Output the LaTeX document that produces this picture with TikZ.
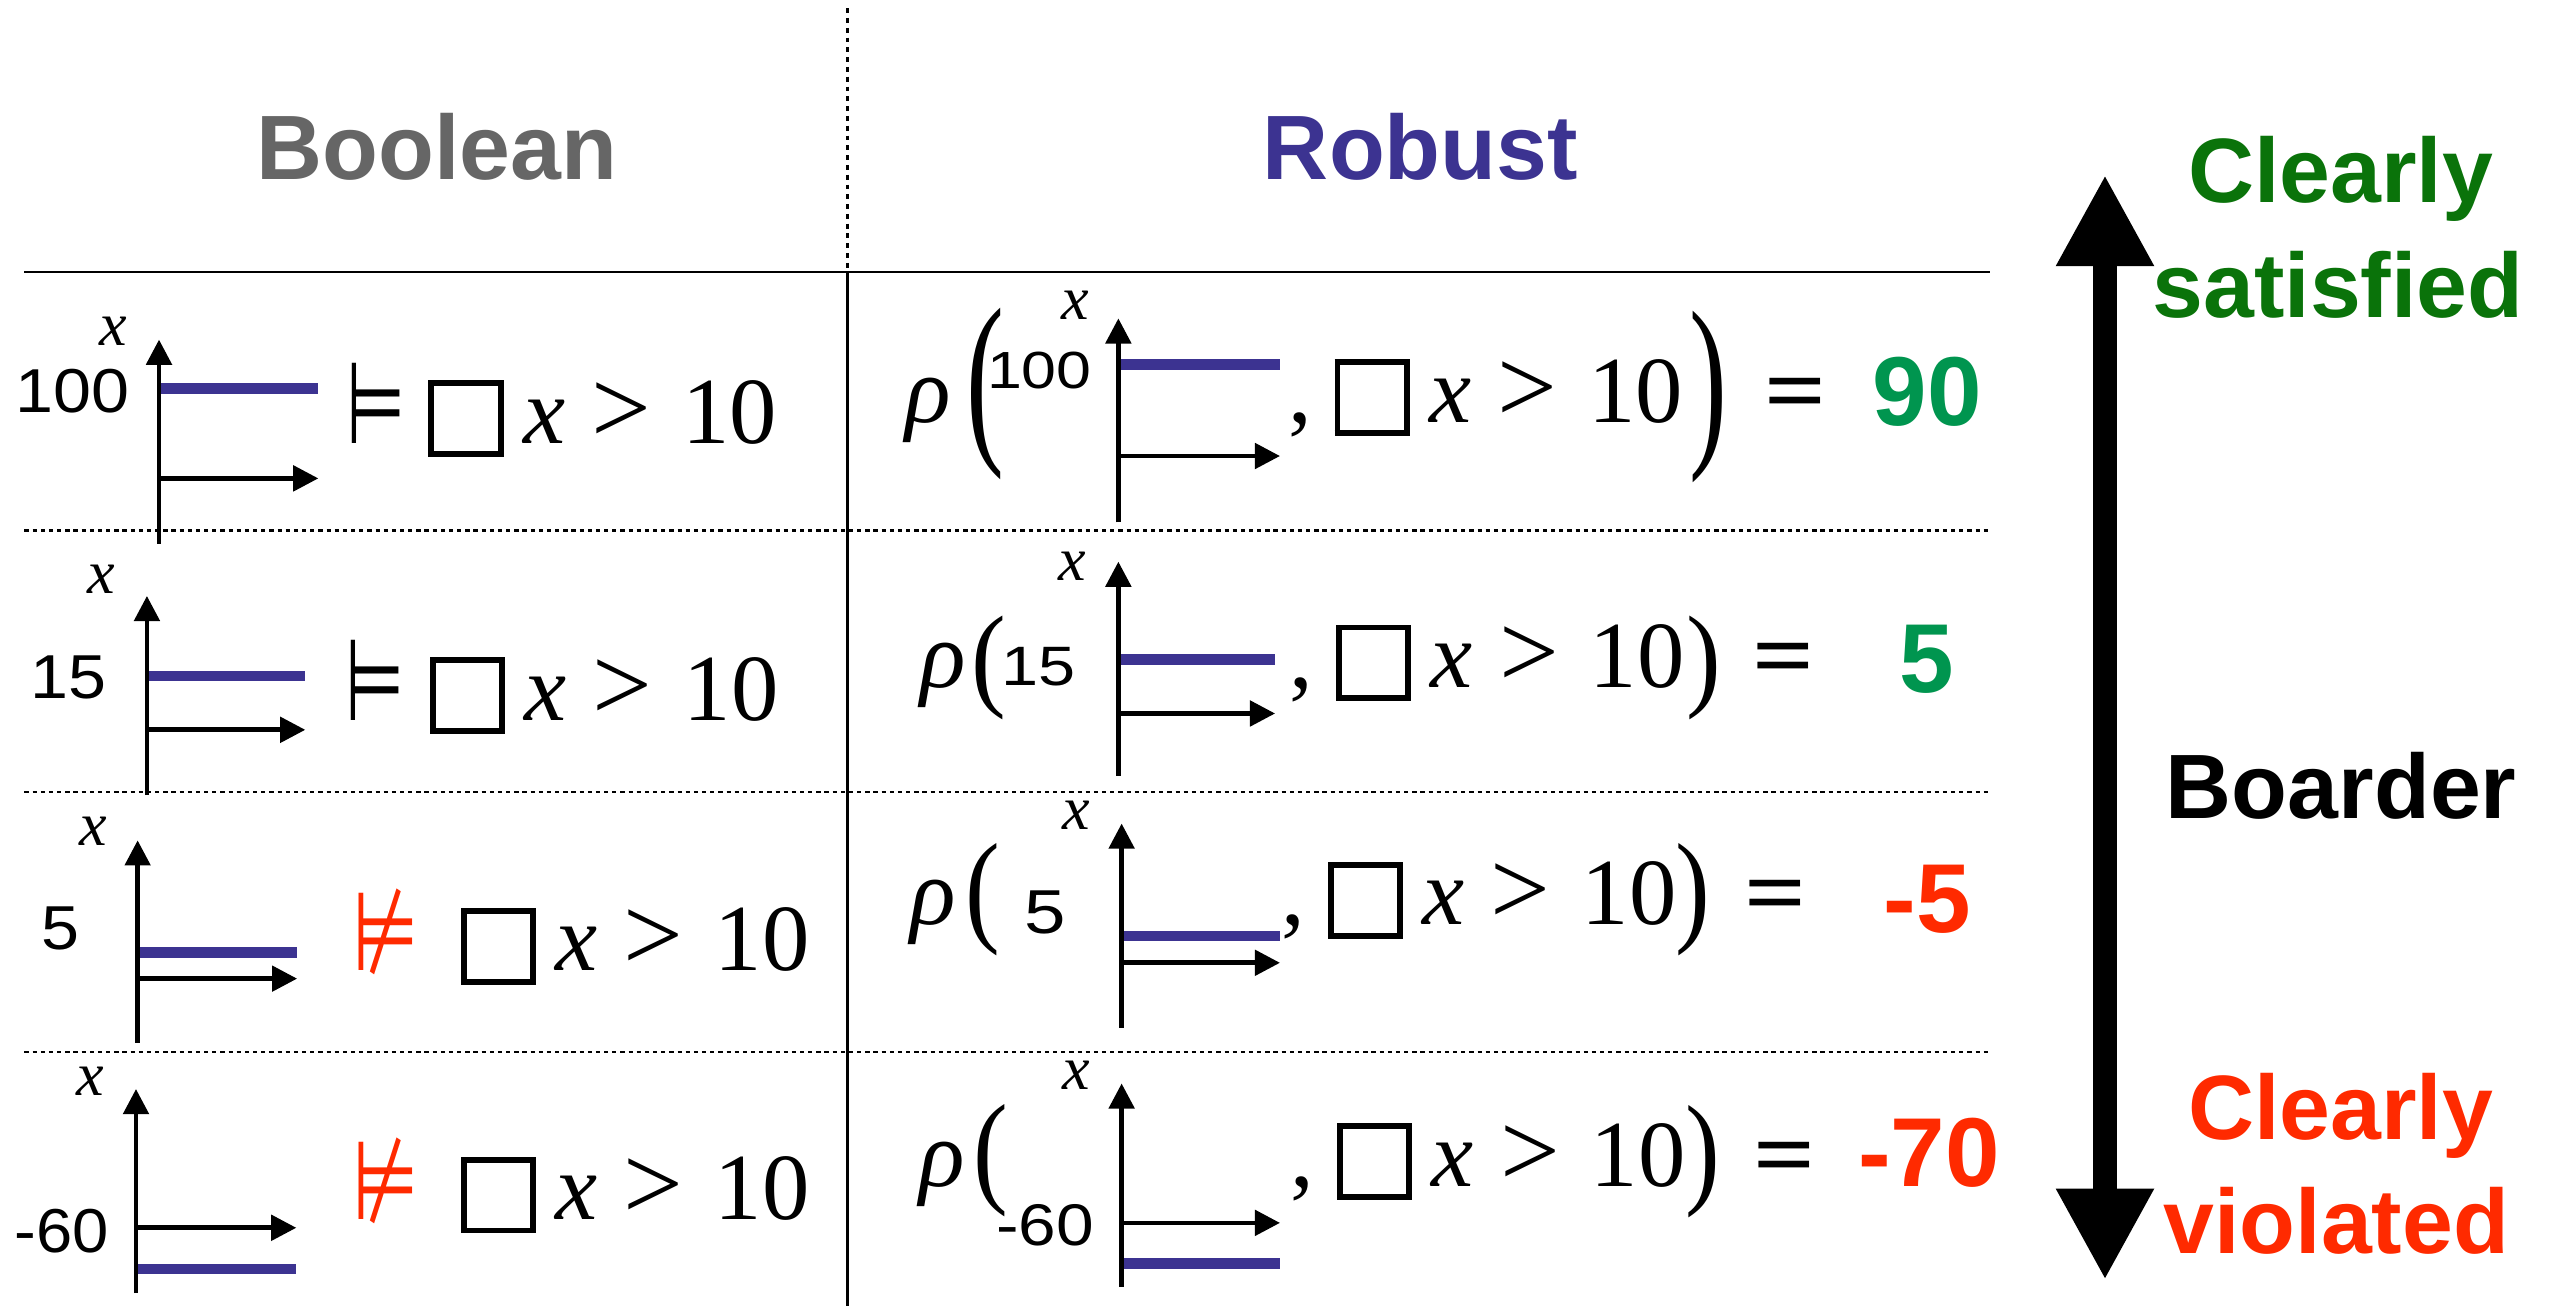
\documentclass[tikz,border=0pt]{standalone}
\usepackage{fontspec}
\usepackage{graphicx}
\setmainfont{Liberation Serif}
\newfontfamily\hv{Liberation Sans}
\newfontfamily\dv{DejaVu Sans}
\usetikzlibrary{arrows.meta}
\definecolor{sigblue}{HTML}{3C3391}
\definecolor{hdgray}{HTML}{666666}
\definecolor{dkgreen}{HTML}{0A730A}
\definecolor{valgreen}{HTML}{00954F}
\definecolor{vred}{HTML}{FF2A00}
\newcommand\BX{\raisebox{-2.45pt}{\setlength\fboxsep{0pt}\setlength\fboxrule{1.8pt}\fbox{\rule{0pt}{19.9pt}\rule{19.4pt}{0pt}}}}
\newcommand\FML{\BX\hspace{6pt}\textit{x}\hspace{8pt}\scalebox{1.12}{>}\hspace{9.5pt}10}
\newcommand\myplot[6]{%
  \draw[sigln] (#1,#4) -- (#6,#4);
  \draw[axisln] (#1,#3) -- (#1,#2);
  \draw[axisln] (#1,#5) -- (#6,#5);
}
\tikzset{
  axisln/.style={line width=1.45pt,-{Triangle[length=7.7pt,width=7.7pt]}},
  sigln/.style={line width=3.3pt,sigblue},
  hdr/.style={font=\hv\bfseries\fontsize{28}{30}\selectfont,anchor=base,inner sep=0pt},
  fml/.style={font=\fontsize{29}{32}\selectfont,anchor=base west,inner sep=0pt},
  rel/.style={font=\dv\fontsize{26}{28}\selectfont,anchor=base,inner sep=0pt},
  xlab/.style={font=\itshape\fontsize{19}{20}\selectfont,inner sep=0pt},
  numb/.style={font=\hv\fontsize{19}{20}\selectfont,anchor=base east,inner sep=0pt},
  numr/.style={font=\hv\fontsize{17}{18}\selectfont,anchor=base east,inner sep=0pt},
  val/.style={font=\hv\bfseries\fontsize{30}{32}\selectfont,anchor=base,inner sep=0pt},
  rho/.style={font=\itshape\fontsize{29}{32}\selectfont,anchor=base,inner sep=0pt},
  paren/.style={font=\fontsize{29}{32}\selectfont,inner sep=0pt},
  eqs/.style={font=\bfseries\fontsize{29}{32}\selectfont,anchor=base,inner sep=0pt},
  dotl/.style={line width=0.7pt,dash pattern=on 1.3pt off 1.2pt},
  rule/.style={line width=0.8pt},
}
\begin{document}
\begin{tikzpicture}[x=0.5pt,y=-0.5pt]
\useasboundingbox[fill=white] (0,0) rectangle (1568,800);
% table lines
\draw[dotl,dash pattern=on 1.5pt off 1.5pt] (519,5) -- (519,166.5);
\draw[rule] (15,166.5) -- (1219,166.5);
\draw[rule] (519,166.5) -- (519,800);
\draw[dotl] (15,325) -- (1219,325);
\draw[dotl] (15,485.3) -- (1219,485.3);
\draw[dotl] (15,644.2) -- (1219,644.2);
% headers
\node[hdr,text=hdgray] (hbool) at (267.5,110) {Boolean};
\node[hdr,text=sigblue] (hrob) at (870,110) {Robust};
% right scale
\coordinate (atop) at (1289.3,107);
\coordinate (abot) at (1289.3,784);
\draw[line width=7.5pt,{Triangle[length=28pt,width=28pt]}-{Triangle[length=28pt,width=28pt]}] (atop) -- (abot);
\node[hdr,text=dkgreen] (cs1) at (1433.7,123.9) {Clearly};
\node[hdr,text=dkgreen] (cs2) at (1432,194.5) {satisfied};
\node[hdr,text=black] (bd) at (1434,501.6) {Boarder};
\node[hdr,text=vred] (cv1) at (1433.7,698) {Clearly};
\node[hdr,text=vred] (cv2) at (1431,767.7) {violated};
% ---------- Boolean column ----------
% row 1
\myplot{97.4}{208}{333}{238}{293}{195}
\node[xlab] (b1x) at (69.3,203) {x};
\node[numb] (b1n) at (79.5,252.7) {\scalebox{1.1}[1]{100}};
\node[rel] (b1r) at (230.5,271.5) {\scalebox{0.8}[1.35]{⊨}};
\node[fml] (b1f) at (262,271.5) {\FML};
% row 2
\myplot{90}{365}{487}{414}{447}{187}
\node[xlab] (b2x) at (62,355) {x};
\node[numb] (b2n) at (65.5,428) {\scalebox{1.1}[1]{15}};
\node[rel] (b2r) at (230,441) {\scalebox{0.8}[1.35]{⊨}};
\node[fml] (b2f) at (263,441) {\FML};
% row 3
\myplot{84.3}{514.7}{638.8}{583.4}{599.4}{182}
\node[xlab] (b3x) at (57,509.4) {x};
\node[numb] (b3n) at (49,581.5) {\scalebox{1.1}[1]{5}};
\node[rel,text=vred] (b3r) at (236,594.5) {\scalebox{0.9}[1.3]{⊭}};
\node[fml] (b3f) at (282,594.5) {\FML};
% row 4
\myplot{83.3}{667}{792}{777.3}{752}{181.5}
\node[xlab] (b4x) at (55,662) {x};
\node[numb] (b4n) at (67,767.4) {\scalebox{1.05}[1]{-60}};
\node[rel,text=vred] (b4r) at (236,747) {\scalebox{0.9}[1.3]{⊭}};
\node[fml] (b4f) at (282,747) {\FML};
% ---------- Robust column ----------
% row 1
\node[rho] (r1rho) at (568.6,258.5) {ρ};
\node[paren] (r1lp) at (603.7,241.4) {\scalebox{1.2}[2.0]{(}};
\myplot{685}{195}{320}{223.3}{279.3}{784}
\node[xlab] (r1x) at (658.3,187) {x};
\node[numr,font=\hv\fontsize{16}{18}\selectfont] (r1n) at (669,237.8) {\scalebox{1.2}[1]{100}};
\node[fml] (r1f) at (817,258.5) {\llap{,\hspace{7pt}}\FML};
\node[paren] (r1rp) at (1046.5,243) {\scalebox{1.2}[2.0]{)}};
\node[eqs] (r1eq) at (1100,258.5) {\scalebox{1.15}[1]{=}};
\node[val,text=valgreen] (r1v) at (1180.5,260.5) {90};
% row 2
\node[rho] (r2rho) at (578,421) {ρ};
\node[paren] (r2lp) at (605.5,409) {\scalebox{1.1}[1.21]{(}};
\myplot{685}{344}{475}{404}{437}{781}
\node[xlab] (r2x) at (656.5,347) {x};
\node[numr] (r2n) at (659,420) {\scalebox{1.2}[1]{15}};
\node[fml] (r2f) at (818,421) {\llap{,\hspace{7pt}}\FML};
\node[paren] (r2rp) at (1043.5,409) {\scalebox{1.1}[1.21]{)}};
\node[eqs] (r2eq) at (1092.5,421) {\scalebox{1.15}[1]{=}};
\node[val,text=valgreen] (r2v) at (1180,424) {5};
% row 3
\node[rho] (r3rho) at (571.5,566.5) {ρ};
\node[paren] (r3lp) at (602,551) {\scalebox{1.1}[1.31]{(}};
\myplot{687}{504.4}{629.6}{573.3}{589.7}{784}
\node[xlab] (r3x) at (659.5,499.5) {x};
\node[numr,font=\hv\fontsize{19}{20}\selectfont] (r3n) at (653.5,572) {\scalebox{1.2}[1]{5}};
\node[fml] (r3f) at (813,566.5) {\llap{,\hspace{7pt}}\FML};
\node[paren] (r3rp) at (1037,551) {\scalebox{1.1}[1.31]{)}};
\node[eqs] (r3eq) at (1087.5,566.5) {\scalebox{1.15}[1]{=}};
\node[val,text=vred] (r3v) at (1180.5,571) {-5};
% row 4
\node[rho] (r4rho) at (577,727) {ρ};
\node[paren] (r4lp) at (607,711) {\scalebox{1.1}[1.31]{(}};
\myplot{687}{663.6}{788}{774}{749}{784}
\node[xlab] (r4x) at (659.5,658.8) {x};
\node[numr,font=\hv\fontsize{18}{20}\selectfont] (r4n) at (670.5,763) {\scalebox{1.15}[1]{-60}};
\node[fml] (r4f) at (818.6,726.5) {\llap{,\hspace{7pt}}\FML};
\node[paren] (r4rp) at (1043,711.5) {\scalebox{1.1}[1.31]{)}};
\node[eqs] (r4eq) at (1093,726.5) {\scalebox{1.15}[1]{=}};
\node[val,text=vred] (r4v) at (1181.5,727) {-70};
\end{tikzpicture}
\end{document}
